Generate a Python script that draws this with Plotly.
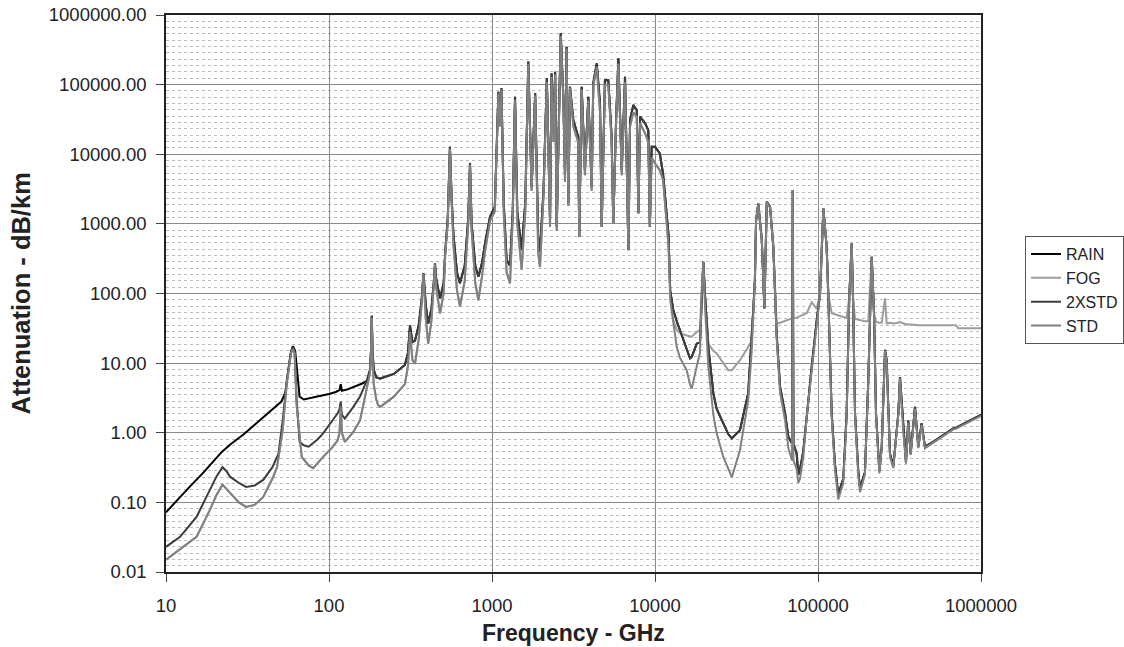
import plotly.graph_objects as go

# ---------------- data ----------------
# Low-frequency segments (GHz, dB/km)
f_low_rain = [10, 12, 14, 17, 20, 22, 25, 30, 35, 40, 45, 51, 54, 56, 58, 60, 62, 64, 66, 70,
              80, 90, 100, 110, 116, 118, 120, 130, 145, 160, 172, 179, 181, 183, 185, 188, 195]
a_low_rain = [0.072, 0.115, 0.168, 0.27, 0.41, 0.53, 0.69, 0.95, 1.3, 1.7, 2.2, 2.8, 3.8, 7, 13, 17.5, 15, 7, 3.3, 3.0,
              3.2, 3.4, 3.6, 3.85, 4.1, 5.0, 4.0, 4.2, 4.6, 5.1, 5.6, 8, 16, 48, 15, 8, 6.3]

f_low_2x = [10, 12.2, 15.4, 18.6, 20.5, 22.2, 23.5, 24.7, 28, 31, 35, 39.5, 45, 49, 52, 55, 57, 58.5, 60, 61.5,
            63.3, 66, 70, 75, 85, 92, 105, 113, 116, 118, 120, 125, 140, 155, 170, 178, 181, 183, 185, 188, 195]
a_low_2x = [0.023, 0.032, 0.062, 0.15, 0.24, 0.32, 0.28, 0.234, 0.19, 0.167, 0.175, 0.21, 0.32, 0.50, 1.5, 5.5, 11, 15, 17, 15,
            3.0, 0.74, 0.66, 0.63, 0.8, 0.98, 1.5, 1.9, 2.2, 2.8, 1.8, 1.6, 2.3, 3.3, 5.5, 8, 15, 48, 15, 8, 6.2]

f_low_std = [10, 12.2, 15.4, 18.6, 20.5, 22.2, 23.5, 24.7, 28, 31, 35, 39.5, 45, 48, 52, 55, 57, 58.5, 60, 61.5,
             63.3, 68, 75, 80, 92, 105, 113, 116, 118, 120, 125, 140, 155, 170, 178, 181, 183, 185, 188, 195]
a_low_std = [0.015, 0.021, 0.032, 0.078, 0.13, 0.18, 0.155, 0.135, 0.1, 0.086, 0.092, 0.12, 0.22, 0.32, 1.1, 5.0, 10, 14, 16, 14,
             2.5, 0.45, 0.34, 0.31, 0.45, 0.62, 0.78, 1.0, 2.4, 1.0, 0.74, 1.0, 1.5, 4.1, 7, 14, 45, 12, 5, 3.0]

# Mid segment (water-vapour line forest)
f_mid = [200, 206, 250, 292, 305, 314, 325, 337, 355, 370,
         380, 392, 406, 425, 440, 447, 455, 480, 505, 516,
         535, 552, 565, 580, 610, 636, 680, 715, 733, 750,
         790, 825, 870, 906, 972, 1040, 1095, 1120, 1143, 1180,
         1230, 1290, 1340, 1384, 1430, 1520, 1600, 1670, 1750, 1840,
         1920, 1970, 2070, 2170, 2270, 2320, 2380, 2440, 2495, 2640,
         2740, 2805, 2870, 2940, 3010, 3155, 3380, 3430, 3550, 3715,
         3900, 4090, 4180, 4390, 4600, 4710, 4930, 5170, 5420, 5550,
         5770, 5960, 6250, 6550, 6870, 7030, 7360, 7730, 7910, 8100,
         8690, 9100, 9300, 9540, 10000, 10700, 11200]
a_mid_dark = [6.1, 6.0, 7.0, 9.4, 14, 35, 20, 21, 35, 80,
              195, 70, 37, 60, 150, 270, 160, 85, 140, 380,
              1200, 12800, 2500, 700, 200, 140, 250, 1200, 7400, 1000,
              250, 174, 280, 525, 1260, 1750, 79000, 31000, 88500, 2000,
              302, 250, 1500, 67000, 1500, 420, 2000, 214000, 3400, 75000,
              650, 400, 3060, 123000, 1130, 145000, 20000, 153000, 910, 546000,
              67000, 4800, 351000, 1970, 93000, 31000, 17800, 650, 93000, 5900,
              67000, 3400, 104000, 202000, 53700, 910, 116000, 116000, 17800, 1020,
              31000, 239000, 5900, 130000, 420, 31000, 51000, 43000, 1420, 34700,
              27800, 22200, 910, 12800, 12800, 10300, 5300]
a_mid_light = [2.5, 2.35, 3.3, 5.0, 9, 28, 11, 9.8, 22, 70,
               190, 45, 19, 40, 130, 260, 120, 52, 100, 350,
               1000, 12000, 2200, 500, 110, 65, 150, 1000, 7000, 800,
               140, 80, 180, 400, 1100, 1500, 75000, 25000, 85000, 1500,
               200, 140, 1200, 60000, 1000, 220, 1500, 200000, 3000, 70000,
               380, 240, 2500, 110000, 900, 130000, 15000, 140000, 800, 500000,
               60000, 4000, 330000, 1800, 90000, 25000, 15000, 650, 85000, 5000,
               60000, 3000, 95000, 180000, 40000, 900, 100000, 100000, 15000, 1000,
               28000, 200000, 5000, 110000, 420, 25000, 40000, 35000, 1420, 28000,
               20000, 15000, 910, 9000, 7400, 5900, 4300]

# High segment (infrared / optical)
f_hi = [11800, 12100, 12400, 12950, 13600, 14220, 15650, 16390, 16800, 18030,
        18880, 19350, 19800, 20300, 21250, 22800, 23900, 26250, 28200, 29600,
        33200, 37300, 39200, 40100, 41000, 41700, 43000, 45200, 46900, 48500,
        50800, 53200, 55800, 58500, 62800, 65800, 69300, 70000, 70700, 74000,
        75700, 77600, 81300, 85300, 91500, 98200, 102900, 107900, 113000, 115600,
        121300, 127000, 133100, 142900, 149900, 155500, 160900, 164000, 168700, 176700,
        181000, 194100, 203500, 213600, 220600, 227000, 237900, 246000, 257700, 263800,
        276500, 289900, 311000, 318500, 333700, 346500, 357900, 370300, 393600, 412500,
        432300, 452900, 509500, 676000, 700000, 725000, 816000, 1000000]
a_hi_dark = [1130, 700, 110, 58, 40, 29.6, 16, 11.7, 12.3, 19,
             20, 110, 286, 90, 17, 3.7, 2.2, 1.36, 0.95, 0.83,
             1.09, 3.7, 21, 60, 155, 1120, 1960, 590, 61, 2080,
             1760, 470, 25, 4.6, 1.9, 0.87, 0.7, 3060, 0.7, 0.5,
             0.25, 0.3, 0.55, 1.9, 8.9, 41, 100, 1660, 470, 100,
             1.9, 0.36, 0.13, 0.22, 1.9, 89, 520, 89, 1.9, 0.28,
             0.16, 0.27, 5.8, 336, 52, 1.9, 0.28, 0.62, 15.5, 11,
             0.5, 0.33, 1.9, 6.3, 1.09, 0.38, 1.5, 0.5, 2.35, 0.63,
             1.36, 0.63, 0.74, 1.15, 1.17, 1.22, 1.4, 1.8]
a_hi_std = [1000, 500, 80, 41, 17, 12, 7.9, 5, 4.3, 9,
            14, 100, 286, 60, 8.9, 1.8, 0.98, 0.45, 0.29, 0.23,
            0.56, 2.9, 15, 40, 155, 1100, 1900, 580, 61, 2050,
            1700, 460, 22, 3.8, 1.5, 0.6, 0.4, 3060, 0.4, 0.3,
            0.19, 0.22, 0.45, 1.7, 8, 38, 95, 1660, 460, 95,
            1.7, 0.3, 0.11, 0.19, 1.7, 85, 520, 85, 1.7, 0.24,
            0.14, 0.25, 5.5, 330, 50, 1.8, 0.26, 0.6, 15, 10,
            0.45, 0.31, 1.8, 6, 1.0, 0.36, 1.4, 0.48, 2.2, 0.6,
            1.3, 0.6, 0.72, 1.12, 1.14, 1.19, 1.38, 1.75]
a_hi_fog = [1000, 500, 100, 41, 30, 27, 25, 24, 24, 28,
            30, 120, 286, 80, 19, 15, 13.8, 10, 7.9, 7.9,
            11, 17, 21, 60, 155, 1120, 1960, 590, 70, 2080,
            1760, 470, 37, 38, 40, 42, 44, 3060, 44, 45,
            46, 47, 50, 52, 75, 60, 100, 1660, 470, 100,
            52, 50, 48, 46, 45, 89, 520, 89, 43, 42,
            41, 40, 40, 336, 52, 39, 38, 38, 85, 37,
            38, 37, 38, 39, 37, 36, 36, 36, 35, 35,
            35, 35, 35, 35, 35, 31.6, 31.6, 31.6]

series_names = ["RAIN", "FOG", "2XSTD", "STD"]
x_tick_vals = [10, 100, 1000, 10000, 100000, 1000000]
x_tick_text = ["10", "100", "1000", "10000", "100000", "1000000"]
y_tick_vals = [0.01, 0.1, 1, 10, 100, 1000, 10000, 100000, 1000000]
y_tick_text = ["0.01", "0.10", "1.00", "10.00", "100.00", "1000.00", "10000.00", "100000.00", "1000000.00"]

assert len(f_low_rain) == len(a_low_rain)
assert len(f_low_2x) == len(a_low_2x)
assert len(f_low_std) == len(a_low_std)
assert len(f_mid) == len(a_mid_dark) == len(a_mid_light)
assert len(f_hi) == len(a_hi_dark) == len(a_hi_std) == len(a_hi_fog)

rain_f, rain_a = f_low_rain + f_mid + f_hi, a_low_rain + a_mid_dark + a_hi_dark
fog_f, fog_a = f_low_std + f_mid + f_hi, a_low_std + a_mid_light + a_hi_fog
x2_f, x2_a = f_low_2x + f_mid + f_hi, a_low_2x + a_mid_dark + a_hi_dark
std_f, std_a = f_low_std + f_mid + f_hi, a_low_std + a_mid_light + a_hi_std

FONT = "Liberation Sans, Arial, Helvetica, sans-serif"
colors = ["#000000", "#9c9c9c", "#3c3c3c", "#808080"]
data = [(rain_f, rain_a), (fog_f, fog_a), (x2_f, x2_a), (std_f, std_a)]

fig = go.Figure()
for name, (fx, fy), col in zip(series_names, data, colors):
    fig.add_trace(go.Scatter(x=fx, y=fy, mode="lines", name=name,
                             line=dict(color=col, width=2)))

minor_vals = [10 ** (k + i / 11) for k in range(-2, 6) for i in range(1, 11)]

fig.update_layout(
    width=1124, height=647,
    margin=dict(l=166, r=143, t=15, b=75, autoexpand=False),
    paper_bgcolor="white", plot_bgcolor="white",
    font=dict(family=FONT, color="#222222"),
    showlegend=True,
    legend=dict(x=1.054, y=0.603, xanchor="left", yanchor="top",
                bordercolor="#555555", borderwidth=1, bgcolor="white",
                font=dict(size=16, color="#222222", family=FONT),
                tracegroupgap=0, itemwidth=30),
    xaxis=dict(type="log", range=[1, 6], tickvals=x_tick_vals, ticktext=x_tick_text,
               ticks="outside", ticklen=8, tickcolor="#444444", tickwidth=1,
               showgrid=True, gridcolor="#8a8a8a", gridwidth=1,
               showline=True, linecolor="#222222", linewidth=1.5, mirror=True,
               zeroline=False, tickfont=dict(size=18.5, family=FONT, color="#222222"),
               ticklabelstandoff=8, automargin=False),
    yaxis=dict(type="log", range=[-2, 6], tickvals=y_tick_vals, ticktext=y_tick_text,
               ticks="outside", ticklen=8, tickcolor="#444444", tickwidth=1,
               showgrid=True, gridcolor="#8a8a8a", gridwidth=1,
               showline=True, linecolor="#222222", linewidth=1.5, mirror=True,
               zeroline=False, tickfont=dict(size=18.5, family=FONT, color="#222222"),
               ticklabelstandoff=6, automargin=False,
               minor=dict(tickmode="array", tickvals=minor_vals, showgrid=True,
                          gridcolor="#bbbbbb", griddash="dot", gridwidth=1, ticks="")),
    annotations=[
        dict(text="<b>Frequency - GHz</b>", xref="paper", yref="paper", x=0.5, y=-0.11,
             xanchor="center", yanchor="middle", showarrow=False,
             font=dict(size=23, family=FONT, color="#222222")),
        dict(text="<b>Attenuation - dB/km</b>", xref="paper", yref="paper", x=-0.178, y=0.5,
             xanchor="center", yanchor="middle", showarrow=False, textangle=-90,
             font=dict(size=25.5, family=FONT, color="#222222")),
    ],
)

fig.write_html("out.html")
